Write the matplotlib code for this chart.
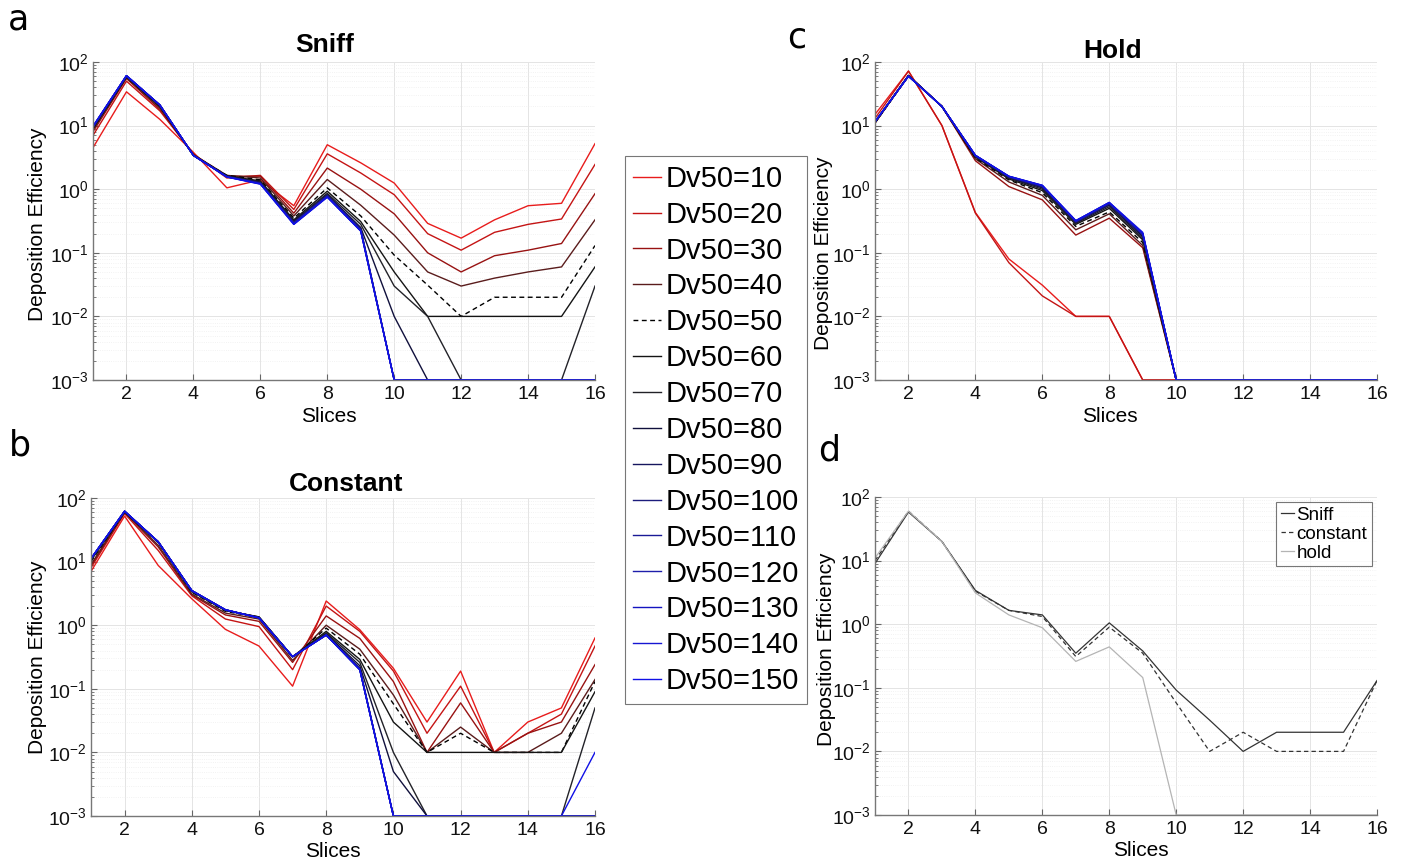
import matplotlib
matplotlib.use("Agg")
import matplotlib.pyplot as plt
from matplotlib.ticker import LogLocator, NullFormatter, LogFormatterSciNotation

plt.rcParams["font.family"] = ["Liberation Sans", "DejaVu Sans"]

# x positions (slice index) shared by every panel
SLICES = [1, 2, 3, 4, 5, 6, 7, 8, 9, 10, 11, 12, 13, 14, 15, 16]
DV50 = [10, 20, 30, 40, 50, 60, 70, 80, 90, 100, 110, 120, 130, 140, 150]

# one row per Dv50 (0.001 = on the axis floor)
SNIFF = [
    [4.5, 34, 12.5, 3.8, 1.05, 1.4, 0.55, 5.0, 2.6, 1.25, 0.29, 0.17, 0.33, 0.55, 0.60, 5.2],
    [7.0, 50, 17, 3.6, 1.50, 1.65, 0.48, 3.6, 1.8, 0.82, 0.20, 0.11, 0.21, 0.28, 0.34, 2.45],
    [8.0, 55, 18, 3.5, 1.60, 1.60, 0.42, 2.15, 1.0, 0.41, 0.10, 0.05, 0.09, 0.11, 0.14, 0.85],
    [8.5, 57, 19, 3.5, 1.65, 1.50, 0.38, 1.42, 0.56, 0.19, 0.05, 0.03, 0.04, 0.05, 0.06, 0.33],
    [9.0, 58, 20, 3.4, 1.65, 1.40, 0.35, 1.05, 0.38, 0.092, 0.031, 0.01, 0.02, 0.02, 0.02, 0.13],
    [9.0, 59, 20, 3.4, 1.62, 1.35, 0.33, 0.93, 0.31, 0.05, 0.01, 0.01, 0.01, 0.01, 0.01, 0.06],
    [9.2, 59, 20.5, 3.4, 1.60, 1.30, 0.32, 0.86, 0.28, 0.03, 0.01, 0.001, 0.001, 0.001, 0.001, 0.03],
    [9.3, 60, 20.5, 3.4, 1.60, 1.28, 0.31, 0.82, 0.25, 0.01, 0.001, 0.001, 0.001, 0.001, 0.001, 0.001],
    [9.4, 60, 21, 3.4, 1.58, 1.26, 0.30, 0.80, 0.24, 0.001, 0.001, 0.001, 0.001, 0.001, 0.001, 0.001],
    [9.5, 60, 21, 3.4, 1.58, 1.25, 0.30, 0.79, 0.235, 0.001, 0.001, 0.001, 0.001, 0.001, 0.001, 0.001],
    [9.6, 61, 21, 3.4, 1.57, 1.24, 0.29, 0.78, 0.23, 0.001, 0.001, 0.001, 0.001, 0.001, 0.001, 0.001],
    [9.6, 61, 21, 3.4, 1.57, 1.23, 0.29, 0.77, 0.225, 0.001, 0.001, 0.001, 0.001, 0.001, 0.001, 0.001],
    [9.7, 61, 21, 3.4, 1.56, 1.22, 0.285, 0.76, 0.22, 0.001, 0.001, 0.001, 0.001, 0.001, 0.001, 0.001],
    [9.7, 61, 21, 3.4, 1.56, 1.21, 0.28, 0.75, 0.22, 0.001, 0.001, 0.001, 0.001, 0.001, 0.001, 0.001],
    [9.8, 61, 21, 3.4, 1.55, 1.20, 0.28, 0.75, 0.22, 0.001, 0.001, 0.001, 0.001, 0.001, 0.001, 0.001],
]

CONSTANT = [
    [7.0, 52, 8.7, 2.6, 0.86, 0.47, 0.11, 2.4, 0.85, 0.21, 0.03, 0.19, 0.01, 0.03, 0.05, 0.63],
    [8.0, 57, 15, 2.9, 1.25, 0.95, 0.20, 2.0, 0.80, 0.19, 0.02, 0.11, 0.01, 0.02, 0.04, 0.47],
    [8.5, 59, 17, 3.0, 1.45, 1.15, 0.26, 1.4, 0.62, 0.13, 0.01, 0.06, 0.01, 0.02, 0.03, 0.24],
    [9.0, 60, 18, 3.1, 1.55, 1.25, 0.28, 1.0, 0.42, 0.08, 0.01, 0.025, 0.01, 0.01, 0.02, 0.14],
    [10, 60, 20, 3.3, 1.65, 1.32, 0.31, 0.90, 0.35, 0.058, 0.01, 0.02, 0.01, 0.01, 0.01, 0.13],
    [10.5, 61, 20, 3.4, 1.70, 1.35, 0.32, 0.80, 0.29, 0.03, 0.01, 0.01, 0.01, 0.01, 0.01, 0.09],
    [10.5, 61, 20.5, 3.4, 1.70, 1.35, 0.32, 0.76, 0.26, 0.01, 0.001, 0.001, 0.001, 0.001, 0.001, 0.05],
    [11, 61, 20.5, 3.45, 1.72, 1.33, 0.32, 0.73, 0.23, 0.005, 0.001, 0.001, 0.001, 0.001, 0.001, 0.001],
    [11, 62, 20.5, 3.5, 1.74, 1.32, 0.32, 0.71, 0.21, 0.001, 0.001, 0.001, 0.001, 0.001, 0.001, 0.001],
    [11, 62, 20.5, 3.5, 1.74, 1.31, 0.32, 0.70, 0.21, 0.001, 0.001, 0.001, 0.001, 0.001, 0.001, 0.001],
    [11.1, 62, 20.5, 3.5, 1.75, 1.31, 0.32, 0.70, 0.20, 0.001, 0.001, 0.001, 0.001, 0.001, 0.001, 0.001],
    [11.1, 62, 20.5, 3.5, 1.75, 1.30, 0.32, 0.70, 0.20, 0.001, 0.001, 0.001, 0.001, 0.001, 0.001, 0.001],
    [11.2, 62, 20.5, 3.5, 1.75, 1.30, 0.32, 0.70, 0.20, 0.001, 0.001, 0.001, 0.001, 0.001, 0.001, 0.001],
    [11.2, 62, 20.5, 3.5, 1.75, 1.30, 0.32, 0.70, 0.20, 0.001, 0.001, 0.001, 0.001, 0.001, 0.001, 0.001],
    [11.2, 62, 20.5, 3.5, 1.75, 1.30, 0.32, 0.70, 0.20, 0.001, 0.001, 0.001, 0.001, 0.001, 0.001, 0.01],
]

HOLD = [
    [15, 72, 10, 0.43, 0.08, 0.031, 0.01, 0.01, 0.001, 0.001, 0.001, 0.001, 0.001, 0.001, 0.001, 0.001],
    [13, 72, 10, 0.42, 0.07, 0.021, 0.01, 0.01, 0.001, 0.001, 0.001, 0.001, 0.001, 0.001, 0.001, 0.001],
    [11, 62, 20, 2.8, 1.10, 0.68, 0.19, 0.35, 0.12, 0.001, 0.001, 0.001, 0.001, 0.001, 0.001, 0.001],
    [11, 61, 20, 3.0, 1.30, 0.80, 0.23, 0.41, 0.13, 0.001, 0.001, 0.001, 0.001, 0.001, 0.001, 0.001],
    [11, 60, 20, 3.1, 1.40, 0.88, 0.26, 0.44, 0.145, 0.001, 0.001, 0.001, 0.001, 0.001, 0.001, 0.001],
    [11.2, 61, 20, 3.2, 1.45, 0.95, 0.28, 0.50, 0.16, 0.001, 0.001, 0.001, 0.001, 0.001, 0.001, 0.001],
    [11.3, 61, 20, 3.25, 1.50, 1.00, 0.29, 0.53, 0.17, 0.001, 0.001, 0.001, 0.001, 0.001, 0.001, 0.001],
    [11.4, 61, 20, 3.3, 1.52, 1.05, 0.30, 0.56, 0.18, 0.001, 0.001, 0.001, 0.001, 0.001, 0.001, 0.001],
    [11.4, 61, 20, 3.3, 1.54, 1.08, 0.30, 0.58, 0.19, 0.001, 0.001, 0.001, 0.001, 0.001, 0.001, 0.001],
    [11.5, 60, 20, 3.35, 1.56, 1.10, 0.31, 0.59, 0.19, 0.001, 0.001, 0.001, 0.001, 0.001, 0.001, 0.001],
    [11.5, 60, 20, 3.4, 1.58, 1.12, 0.31, 0.60, 0.20, 0.001, 0.001, 0.001, 0.001, 0.001, 0.001, 0.001],
    [11.5, 60, 20, 3.4, 1.58, 1.13, 0.31, 0.61, 0.20, 0.001, 0.001, 0.001, 0.001, 0.001, 0.001, 0.001],
    [11.5, 60, 20, 3.4, 1.59, 1.14, 0.32, 0.61, 0.20, 0.001, 0.001, 0.001, 0.001, 0.001, 0.001, 0.001],
    [11.5, 60, 20, 3.4, 1.60, 1.15, 0.32, 0.62, 0.20, 0.001, 0.001, 0.001, 0.001, 0.001, 0.001, 0.001],
    [11.5, 60, 20, 3.4, 1.60, 1.15, 0.32, 0.62, 0.21, 0.001, 0.001, 0.001, 0.001, 0.001, 0.001, 0.001],
]

# panel d compares the Dv50=50 curve of each breathing pattern
COMPARE_LABELS = ["Sniff", "constant", "hold"]

COLORS = ["#e81c1c", "#c41414", "#981212", "#5a1c1c", "#000000", "#141414", "#222228",
          "#10103c", "#16165e", "#1c1c7c", "#1a1a96", "#1e1eaa", "#1414c0", "#1616d2", "#1010e6"]
STYLES = ["-", "-", "-", "-", "--", "-", "-", "-", "-", "-", "-", "-", "-", "-", "-"]

W, H = 1403, 863


def px_axes(left, top, right, bottom):
    return [left / W, 1 - bottom / H, (right - left) / W, (bottom - top) / H]


def style_axes(ax):
    ax.set_yscale("log")
    ax.set_xlim(1, 16)
    ax.set_ylim(1e-3, 1e2)
    ax.set_xticks(range(2, 17, 2))
    ax.yaxis.set_major_locator(LogLocator(base=10, numticks=10))
    ax.yaxis.set_major_formatter(LogFormatterSciNotation())
    ax.yaxis.set_minor_locator(LogLocator(base=10, subs=(2, 3, 4, 5, 6, 7, 8, 9), numticks=12))
    ax.yaxis.set_minor_formatter(NullFormatter())
    ax.tick_params(which="both", direction="in", color="#666666", labelsize=14,
                   labelcolor="#111111")
    ax.tick_params(which="major", length=4)
    ax.tick_params(which="minor", length=2)
    ax.tick_params(axis="x", pad=4)
    ax.tick_params(axis="y", pad=3)
    for side in ("top", "right"):
        ax.spines[side].set_visible(False)
    for side in ("left", "bottom"):
        ax.spines[side].set_color("#777777")
        ax.spines[side].set_linewidth(1.0)
        ax.spines[side].set_zorder(5)
    ax.grid(which="major", color="#e4e4e4", linewidth=0.7)
    ax.grid(which="minor", axis="y", color="#eeeeee", linewidth=0.6, linestyle=":")
    ax.set_axisbelow(True)


def draw_family(ax, rows):
    handles = []
    for vals, col, ls in zip(rows, COLORS, STYLES):
        (ln,) = ax.plot(SLICES, vals, color=col, linewidth=1.0, linestyle=ls)
        if ls == "--":
            ln.set_dashes((3.5, 2.5))
        handles.append(ln)
    return handles


fig = plt.figure(figsize=(W / 100, H / 100), dpi=100)

ax_a = fig.add_axes(px_axes(93, 62, 595, 380))
ax_b = fig.add_axes(px_axes(91, 498, 595, 816))
ax_c = fig.add_axes(px_axes(875, 62, 1377, 380))
ax_d = fig.add_axes(px_axes(875, 497, 1377, 815))

handles = draw_family(ax_a, SNIFF)
draw_family(ax_b, CONSTANT)
draw_family(ax_c, HOLD)

ax_d.plot(SLICES, SNIFF[4], color="#333333", linewidth=0.9, label=COMPARE_LABELS[0])
(cl,) = ax_d.plot(SLICES, CONSTANT[4], color="#333333", linewidth=0.9, linestyle="--",
                  label=COMPARE_LABELS[1])
cl.set_dashes((3.5, 2.5))
ax_d.plot(SLICES, HOLD[4], color="#b4b4b4", linewidth=0.9, label=COMPARE_LABELS[2])

for ax in (ax_a, ax_b, ax_c, ax_d):
    style_axes(ax)
    ax.set_xlabel("Slices", fontsize=15)
    ax.set_ylabel("Deposition Efficiency", fontsize=15)

ax_a.xaxis.set_label_coords(0.47, -0.085)
ax_b.xaxis.set_label_coords(0.48, -0.082)
ax_c.xaxis.set_label_coords(0.467, -0.085)
ax_d.xaxis.set_label_coords(0.53, -0.082)
ax_a.yaxis.set_label_coords(-0.092, 0.49)
ax_b.yaxis.set_label_coords(-0.087, 0.5)
ax_c.yaxis.set_label_coords(-0.084, 0.40)
ax_d.yaxis.set_label_coords(-0.078, 0.52)

title_kw = dict(fontsize=19, fontweight="bold", ha="center", va="center")
ax_a.text(0.462, 1.053, "Sniff", transform=ax_a.transAxes, **title_kw)
ax_b.text(0.506, 1.044, "Constant", transform=ax_b.transAxes, **title_kw)
ax_c.text(0.473, 1.035, "Hold", transform=ax_c.transAxes, **title_kw)

ax_d.legend(loc="upper right", bbox_to_anchor=(0.99, 0.985), fontsize=13.5, frameon=True,
            fancybox=False, edgecolor="#555555", handlelength=0.7, handletextpad=0.15,
            labelspacing=0.1, borderpad=0.25, borderaxespad=0.0)
ax_d.get_legend().get_frame().set_linewidth(0.8)

leg = fig.legend(handles, [f"Dv50={v}" for v in DV50], loc="center",
                 bbox_to_anchor=(716 / W, 1 - 430 / H), fontsize=21, frameon=True,
                 fancybox=False, edgecolor="#555555", handlelength=0.95, handletextpad=0.15,
                 labelspacing=0.27, borderpad=0.3)
leg.get_frame().set_linewidth(0.8)

letter_kw = dict(fontsize=25, ha="center", va="center", family="DejaVu Sans")
fig.text(18 / W, 1 - 19 / H, "a", **letter_kw)
fig.text(20 / W, 1 - 445 / H, "b", **letter_kw)
fig.text(797 / W, 1 - 38 / H, "c", **letter_kw)
fig.text(829 / W, 1 - 450 / H, "d", **letter_kw)

fig.savefig("out.png", dpi=100)
